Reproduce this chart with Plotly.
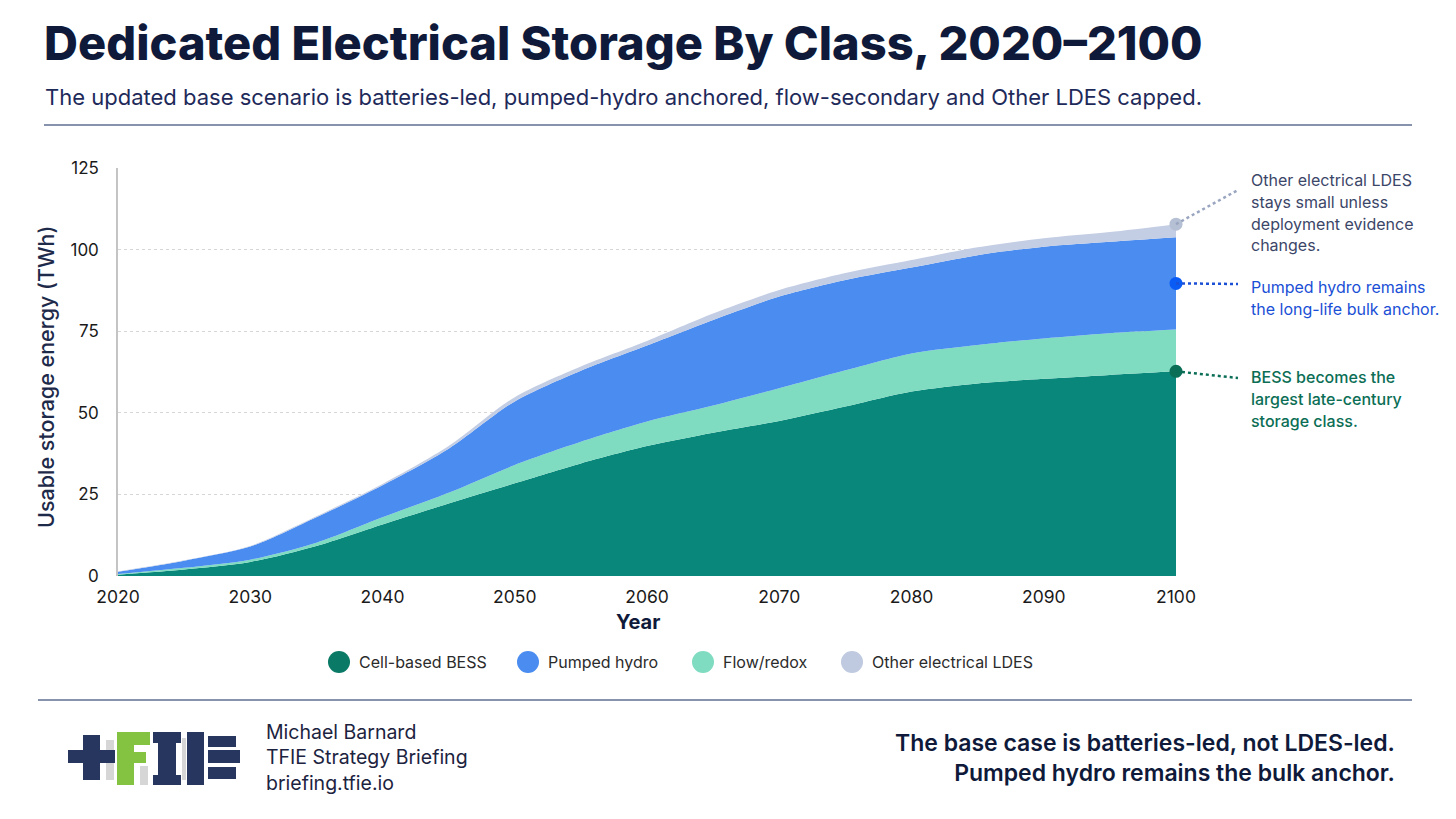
import plotly.graph_objects as go

# stacked storage by class, TWh
years = [2020, 2025, 2030, 2035, 2040, 2045, 2050, 2055, 2060,
         2065, 2070, 2075, 2080, 2085, 2090, 2095, 2100]
bess = [0.4, 2.0, 4.3, 9.2, 15.8, 22.2, 28.4, 34.5, 39.8,
        43.9, 47.5, 51.9, 56.5, 59.0, 60.4, 61.6, 62.7]
flow = [0.2, 0.5, 0.7, 1.0, 2.2, 3.3, 5.6, 6.6, 7.5,
        8.3, 10.0, 11.1, 11.7, 11.8, 12.4, 12.8, 12.8]
pumped = [0.7, 2.2, 4.0, 7.8, 9.8, 13.5, 19.5, 21.8, 23.3,
          26.2, 28.1, 27.7, 26.3, 27.5, 28.1, 28.0, 28.3]
other = [0.1, 0.1, 0.2, 0.3, 0.4, 0.8, 1.3, 1.3, 1.4,
         2.0, 2.0, 2.1, 2.3, 2.4, 2.6, 3.0, 4.0]

names = ["Cell-based BESS", "Pumped hydro", "Flow/redox", "Other electrical LDES"]
y_ticks = [0, 25, 50, 75, 100, 125]
x_ticks = [2020, 2030, 2040, 2050, 2060, 2070, 2080, 2090, 2100]
Y_MAX = 125

C_BESS = "#08877a"
C_PUMP = "#4a8cf0"
C_FLOW = "#7fdcc0"
C_OTHER = "#c3cde4"
NAVY = "#0f1a3a"
FONT = "Inter"

# page has an 8px body margin, so the figure is drawn 8px in from the corner
OFF = 8
W, H = 1456 - 2 * OFF, 819 - 2 * OFF
# plot box in page pixels
L, R, T, B = 118, 1176, 168, 576


def px(x):
    return (x - L) / (R - L)


def py(y):
    return (B - y) / (B - T)


fig = go.Figure()

# stack order bottom -> top
stack = [(names[0], bess, C_BESS), (names[2], flow, C_FLOW),
         (names[1], pumped, C_PUMP), (names[3], other, C_OTHER)]
for nm, vals, col in stack:
    fig.add_trace(go.Scatter(
        x=years, y=vals, name=nm, stackgroup="one", mode="lines",
        line=dict(width=0, shape="spline", smoothing=0.8),
        fillcolor=col, showlegend=False,
        hovertemplate=nm + " %{x}: %{y:.1f} TWh<extra></extra>"))

shapes = []
ann = []

# end-of-century call-outs
top_bess = bess[-1]
mid_pump = bess[-1] + flow[-1] + pumped[-1] / 2
top_all = bess[-1] + flow[-1] + pumped[-1] + other[-1]
callouts = [
    (top_all, 190, "#b6c0d4", "#9aa6c0",
     ["Other electrical LDES", "stays small unless", "deployment evidence", "changes."],
     "#3b4668", 400, 180),
    (mid_pump, 284, "#0a5cf5", "#1a4fd6",
     ["Pumped hydro remains", "the long-life bulk anchor."],
     "#1a4fd6", 400, 287),
    (top_bess, 378, "#0b6e57", "#0b6e57",
     ["BESS becomes the", "largest late-century", "storage class."],
     "#0b6e55", 500, 377),
]
for yv, yend, mcol, lcol, lines, tcol, wt, yfirst in callouts:
    shapes.append(dict(type="line", xref="paper", yref="paper",
                       x0=1.0, y0=yv / Y_MAX, x1=px(1238), y1=py(yend),
                       line=dict(color=lcol, width=2.5, dash="dot")))
    fig.add_trace(go.Scatter(
        x=[years[-1]], y=[yv], mode="markers",
        marker=dict(color=mcol, size=13), cliponaxis=False,
        showlegend=False, hoverinfo="skip"))
    for i, line in enumerate(lines):
        ann.append(dict(x=px(1249), y=py(yfirst + 21.8 * i), text=line,
                        xanchor="left", yanchor="middle", align="left",
                        font=dict(family=FONT, size=16, color=tcol, weight=wt)))

# title + subtitle
ann.append(dict(x=px(42), y=py(42), text="Dedicated Electrical Storage By Class, 2020\u20132100",
                xanchor="left", yanchor="middle",
                font=dict(family=FONT, size=47, color=NAVY, weight=800)))
ann.append(dict(x=px(43), y=py(97),
                text="The updated base scenario is batteries-led, pumped-hydro anchored, "
                     "flow-secondary and Other LDES capped.",
                xanchor="left", yanchor="middle",
                font=dict(family=FONT, size=22, color="#1e2a5a")))
# axis titles
ann.append(dict(x=px(638), y=py(622), text="<b>Year</b>", xanchor="center", yanchor="middle",
                font=dict(family=FONT, size=20, color=NAVY)))
ann.append(dict(x=px(46), y=py(377), text="Usable storage energy (TWh)", textangle=-90,
                xanchor="center", yanchor="middle",
                font=dict(family=FONT, size=21.5, color="#1e2a4a", weight=500)))

# legend drawn by hand with round swatches
leg_cols = ["#0a7a66", C_PUMP, C_FLOW, "#bfcae0"]
leg_x = [339, 528, 703, 852]
for nm, col, cx in zip(names, leg_cols, leg_x):
    shapes.append(dict(type="circle", xref="paper", yref="paper",
                       x0=px(cx - 11), x1=px(cx + 11), y0=py(662 + 11), y1=py(662 - 11),
                       fillcolor=col, line=dict(width=0)))
    ann.append(dict(x=px(cx + 18), y=py(662), text=nm, xanchor="left", yanchor="middle",
                    font=dict(family=FONT, size=16, color="#2b2b2b")))

# separator rules
shapes.append(dict(type="line", xref="paper", yref="paper", x0=px(44), x1=px(1412),
                   y0=py(125), y1=py(125), line=dict(color="#8792ad", width=2)))
shapes.append(dict(type="line", xref="paper", yref="paper", x0=px(38), x1=px(1412),
                   y0=py(700), y1=py(700), line=dict(color="#8792ad", width=2)))


def box(x0, y0, x1, y1, col):
    shapes.append(dict(type="rect", xref="paper", yref="paper",
                       x0=px(x0), x1=px(x1), y0=py(y1), y1=py(y0),
                       fillcolor=col, line=dict(width=0)))


# TFIE logo
LN, LG, LY = "#26365f", "#84c341", "#d6d6d6"
box(106, 740, 114, 780, LY)
box(140, 766, 148, 785, LY)
box(182, 738, 186, 780, LY)
box(68, 750, 115, 763, LN)
box(83, 735, 100, 780, LN)
box(117, 732, 150, 745, LG)
box(117, 732, 134, 785, LG)
box(117, 752, 146, 763, LG)
box(153, 732, 181, 743, LN)
box(158, 732, 176, 785, LN)
box(153, 775, 181, 785, LN)
box(187, 732, 204, 785, LN)
box(208, 736, 236, 747, LN)
box(208, 750, 240, 763, LN)
box(208, 767, 236, 779, LN)

# footer text
ann.append(dict(x=px(264), y=py(757),
                text="Michael Barnard<br>TFIE Strategy Briefing<br>briefing.tfie.io",
                xanchor="left", yanchor="middle", align="left",
                font=dict(family=FONT, size=19.5, color="#1c2340")))
ann.append(dict(x=px(1397), y=py(758),
                text="The base case is batteries-led, not LDES-led.<br>"
                     "Pumped hydro remains the bulk anchor.",
                xanchor="right", yanchor="middle", align="right",
                font=dict(family=FONT, size=23, color=NAVY, weight=600)))

for a in ann:
    a.setdefault("xref", "paper")
    a.setdefault("yref", "paper")
    a.setdefault("showarrow", False)
    fig.add_annotation(**a)

fig.update_layout(
    width=W, height=H,
    margin=dict(l=L - OFF, r=W - (R - OFF), t=T - OFF, b=H - (B - OFF), pad=0),
    paper_bgcolor="white", plot_bgcolor="white",
    font=dict(family=FONT, size=16, color="#1a1a1a"),
    shapes=shapes, showlegend=False,
)
fig.update_xaxes(range=[years[0], years[-1]], tickvals=x_ticks, showgrid=False,
                 zeroline=False, showline=False, ticks="", ticklabelstandoff=8,
                 tickfont=dict(family=FONT, size=17.5, color="#1a1a1a"), fixedrange=True)
fig.update_yaxes(range=[0, Y_MAX], tickvals=y_ticks, showgrid=True, gridcolor="#d6d6d6",
                 griddash="dot", gridwidth=1, zeroline=False, showline=True,
                 linecolor="#c4c4c4", linewidth=1.5, ticks="", ticklabelstandoff=14,
                 tickfont=dict(family=FONT, size=17, color="#1a1a1a"), fixedrange=True)

fig.write_html("out.html")
